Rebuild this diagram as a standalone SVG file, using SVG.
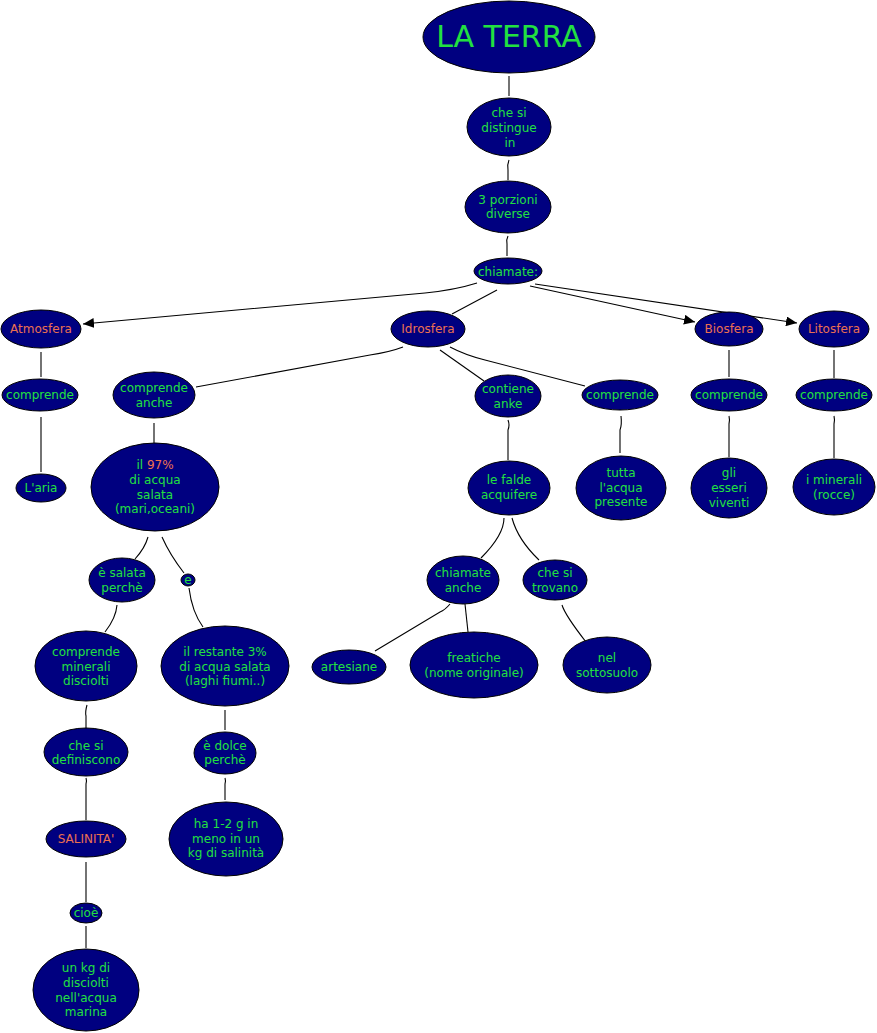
<svg xmlns="http://www.w3.org/2000/svg" width="877" height="1033" viewBox="0 0 877 1033">
<defs>
<style>
.n{fill:#000080;stroke:#000;stroke-width:1}
.t{font-family:"DejaVu Sans",Verdana,sans-serif;font-size:12px;fill:#22e040;text-anchor:middle}
.o{fill:#ec7050}
.c{fill:none;stroke:#000;stroke-width:1.1}
.a{marker-end:url(#arr)}
</style>
<marker id="arr" markerWidth="11" markerHeight="10" refX="11" refY="5" orient="auto" markerUnits="userSpaceOnUse">
<path d="M0,0 L11,5 L0,10 z" fill="#000"/>
</marker>
</defs>
<rect width="877" height="1033" fill="#fff"/>
<g id="connectors">
<path class="c" d="M509,76 V96"/>
<path class="c" d="M509,160 Q507,165 508,170 V180"/>
<path class="c" d="M508,236 Q506,240 507,244 V256"/>
<path class="c a" d="M477,283 Q455,290 425,293 L83,324"/>
<path class="c" d="M497,290 L452,314"/>
<path class="c a" d="M530,286 L695,322"/>
<path class="c a" d="M535,284 L797,323"/>
<path class="c" d="M403,347 Q390,352 370,355 L196,387"/>
<path class="c" d="M440,350 L484,381"/>
<path class="c" d="M450,347 Q465,355 485,360 L585,386"/>
<path class="c" d="M41,352 V377"/>
<path class="c" d="M41,417 V472"/>
<path class="c" d="M154,423 V443"/>
<path class="c" d="M148,537 Q145,548 135,559"/>
<path class="c" d="M162,537 Q170,555 184,573"/>
<path class="c" d="M117,605 Q116,618 105,632"/>
<path class="c" d="M189,588 Q192,612 203,627"/>
<path class="c" d="M87,705 Q85,712 86,716 V728"/>
<path class="c" d="M225,710 V730"/>
<path class="c" d="M86,778 Q87,781 86,784 V820"/>
<path class="c" d="M225,778 Q226,781 225,784 V800"/>
<path class="c" d="M86,862 V902"/>
<path class="c" d="M86,926 V948"/>
<path class="c" d="M508,420 Q510,425 508,430 V460"/>
<path class="c" d="M621,416 Q622,425 620,430 V453"/>
<path class="c" d="M504,518 Q504,535 481,558"/>
<path class="c" d="M512,518 Q518,540 539,560"/>
<path class="c" d="M450,604 Q445,610 440,612 L375,651"/>
<path class="c" d="M465,604 L468,632"/>
<path class="c" d="M562,605 Q565,615 586,642"/>
<path class="c" d="M729,350 V377"/>
<path class="c" d="M729,416 Q730,420 729,424 V457"/>
<path class="c" d="M834,350 V378"/>
<path class="c" d="M834,416 Q835,420 834,424 V458"/>
</g>
<g id="la-terra"><ellipse class="n" cx="509" cy="37" rx="86" ry="36"/><text class="t" x="509" y="47" style="font-size:30px">LA TERRA</text></g>
<g id="che-si-distingue"><ellipse class="n" cx="509" cy="127" rx="42" ry="29"/><text class="t" x="509" y="117">che si</text><text class="t" x="509" y="132">distingue</text><text class="t" x="510" y="147">in</text></g>
<g id="tre-porzioni"><ellipse class="n" cx="508" cy="207" rx="43" ry="26"/><text class="t" x="508" y="204">3 porzioni</text><text class="t" x="508" y="218">diverse</text></g>
<g id="chiamate"><ellipse class="n" cx="508" cy="271" rx="34" ry="13"/><text class="t" x="508" y="276">chiamate:</text></g>
<g id="atmosfera"><ellipse class="n" cx="41" cy="329" rx="40" ry="19"/><text class="t o" x="41" y="333">Atmosfera</text></g>
<g id="idrosfera"><ellipse class="n" cx="428" cy="329" rx="37" ry="18"/><text class="t o" x="428" y="333">Idrosfera</text></g>
<g id="biosfera"><ellipse class="n" cx="729" cy="329" rx="34" ry="17"/><text class="t o" x="729" y="333">Biosfera</text></g>
<g id="litosfera"><ellipse class="n" cx="834" cy="329" rx="35" ry="18"/><text class="t o" x="834" y="333">Litosfera</text></g>
<g id="comprende-atmo"><ellipse class="n" cx="40" cy="395" rx="38" ry="16"/><text class="t" x="40" y="399">comprende</text></g>
<g id="comprende-anche"><ellipse class="n" cx="154" cy="395" rx="41" ry="23"/><text class="t" x="154" y="392">comprende</text><text class="t" x="154" y="407">anche</text></g>
<g id="contiene-anke"><ellipse class="n" cx="508" cy="396" rx="33" ry="21"/><text class="t" x="508" y="393">contiene</text><text class="t" x="508" y="408">anke</text></g>
<g id="comprende-idro"><ellipse class="n" cx="620" cy="395" rx="38" ry="15"/><text class="t" x="620" y="399">comprende</text></g>
<g id="comprende-bio"><ellipse class="n" cx="729" cy="395" rx="38" ry="16"/><text class="t" x="729" y="399">comprende</text></g>
<g id="comprende-lito"><ellipse class="n" cx="834" cy="395" rx="38" ry="16"/><text class="t" x="834" y="399">comprende</text></g>
<g id="aria"><ellipse class="n" cx="41" cy="488" rx="25" ry="14"/><text class="t" x="41" y="492">L'aria</text></g>
<g id="acqua-97"><ellipse class="n" cx="155" cy="487" rx="64" ry="44"/><text class="t" x="155" y="469">il <tspan class="o">97%</tspan></text><text class="t" x="155" y="484">di acqua</text><text class="t" x="155" y="499">salata</text><text class="t" x="155" y="513">(mari,oceani)</text></g>
<g id="falde"><ellipse class="n" cx="509" cy="488" rx="41" ry="27"/><text class="t" x="509" y="484">le falde</text><text class="t" x="509" y="499">acquifere</text></g>
<g id="tutta-acqua"><ellipse class="n" cx="621" cy="488" rx="45" ry="32"/><text class="t" x="621" y="477">tutta</text><text class="t" x="621" y="492">l'acqua</text><text class="t" x="621" y="506">presente</text></g>
<g id="esseri-viventi"><ellipse class="n" cx="729" cy="488" rx="38" ry="30"/><text class="t" x="729" y="477">gli</text><text class="t" x="729" y="492">esseri</text><text class="t" x="729" y="507">viventi</text></g>
<g id="minerali-rocce"><ellipse class="n" cx="834" cy="487" rx="41" ry="28"/><text class="t" x="834" y="484">i minerali</text><text class="t" x="834" y="499">(rocce)</text></g>
<g id="salata-perche"><ellipse class="n" cx="122" cy="580" rx="33" ry="22"/><text class="t" x="122" y="577">è salata</text><text class="t" x="122" y="592">perchè</text></g>
<g id="e"><ellipse class="n" cx="188" cy="580" rx="7" ry="6"/><text class="t" x="188" y="584">e</text></g>
<g id="chiamate-anche"><ellipse class="n" cx="463" cy="580" rx="36" ry="24"/><text class="t" x="463" y="577">chiamate</text><text class="t" x="463" y="592">anche</text></g>
<g id="che-si-trovano"><ellipse class="n" cx="555" cy="580" rx="32" ry="20"/><text class="t" x="555" y="577">che si</text><text class="t" x="555" y="592">trovano</text></g>
<g id="minerali-disciolti"><ellipse class="n" cx="86" cy="666" rx="51" ry="35"/><text class="t" x="86" y="656">comprende</text><text class="t" x="86" y="671">minerali</text><text class="t" x="86" y="685">disciolti</text></g>
<g id="restante-3"><ellipse class="n" cx="225" cy="666" rx="64" ry="40"/><text class="t" x="225" y="656">il restante 3%</text><text class="t" x="225" y="671">di acqua salata</text><text class="t" x="225" y="685">(laghi fiumi..)</text></g>
<g id="artesiane"><ellipse class="n" cx="349" cy="667" rx="37" ry="17"/><text class="t" x="349" y="671">artesiane</text></g>
<g id="freatiche"><ellipse class="n" cx="474" cy="665" rx="64" ry="33"/><text class="t" x="474" y="662">freatiche</text><text class="t" x="474" y="677">(nome originale)</text></g>
<g id="sottosuolo"><ellipse class="n" cx="607" cy="665" rx="44" ry="28"/><text class="t" x="607" y="662">nel</text><text class="t" x="607" y="677">sottosuolo</text></g>
<g id="si-definiscono"><ellipse class="n" cx="86" cy="752" rx="42" ry="24"/><text class="t" x="86" y="750">che si</text><text class="t" x="86" y="764">definiscono</text></g>
<g id="dolce-perche"><ellipse class="n" cx="225" cy="753" rx="31" ry="21"/><text class="t" x="225" y="750">è dolce</text><text class="t" x="225" y="764">perchè</text></g>
<g id="salinita"><ellipse class="n" cx="86" cy="839" rx="40" ry="18"/><text class="t o" x="86" y="843">SALINITA'</text></g>
<g id="ha-1-2-g"><ellipse class="n" cx="226" cy="839" rx="57" ry="37"/><text class="t" x="226" y="828">ha 1-2 g in</text><text class="t" x="226" y="843">meno in un</text><text class="t" x="226" y="857">kg di salinità</text></g>
<g id="cioe"><ellipse class="n" cx="86" cy="913" rx="16" ry="10"/><text class="t" x="86" y="917">cioè</text></g>
<g id="un-kg"><ellipse class="n" cx="86" cy="990" rx="53" ry="41"/><text class="t" x="86" y="972">un kg di</text><text class="t" x="86" y="987">disciolti</text><text class="t" x="86" y="1002">nell'acqua</text><text class="t" x="86" y="1016">marina</text></g>
</svg>
